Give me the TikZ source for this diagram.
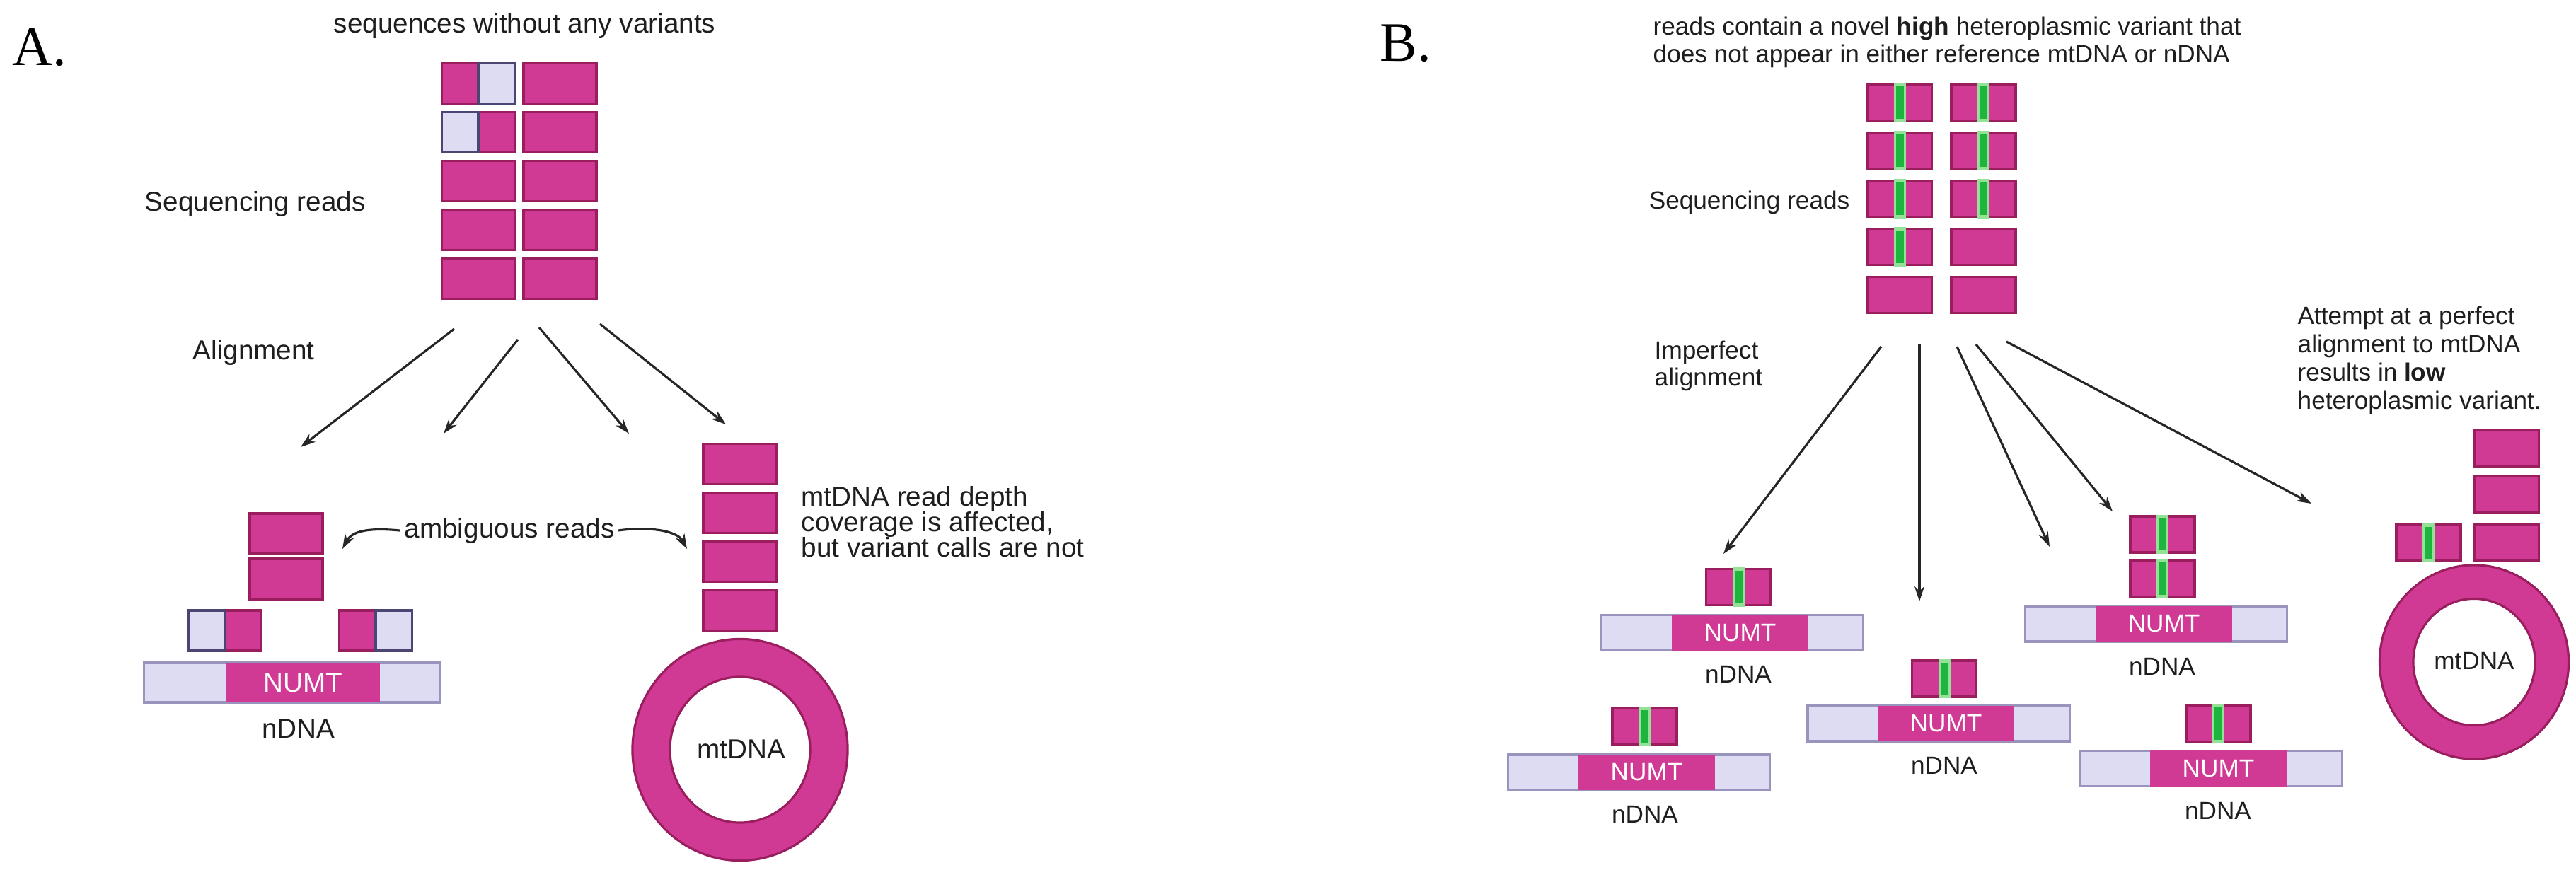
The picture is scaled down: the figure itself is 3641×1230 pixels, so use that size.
\documentclass[tikz,border=0pt]{standalone}
\usepackage{fontspec}
\setmainfont{Liberation Sans}
\newfontfamily\labelfont{Liberation Serif}
\usetikzlibrary{arrows.meta}
\definecolor{mag}{HTML}{D03A94}
\definecolor{magdark}{HTML}{9A1E5E}
\definecolor{lav}{HTML}{DEDCF3}
\definecolor{lavdark}{HTML}{9994BE}
\definecolor{navy}{HTML}{4A4572}
\definecolor{dgreen}{HTML}{1DB53D}
\definecolor{lgreen}{HTML}{93E297}
\definecolor{txt}{HTML}{1E1E1E}
\definecolor{arrowc}{HTML}{262626}
\tikzset{
  readbox/.style={draw=magdark, fill=mag, line width=1pt, inner sep=0pt, outer sep=0pt},
  readA/.style={readbox, minimum width=1.03cm, minimum height=0.57cm},
  readB/.style={readbox, minimum width=0.91cm, minimum height=0.51cm},
  lavpart/.style={draw=navy, fill=lav, line width=1pt},
  barbox/.style={draw=lavdark, fill=lav, line width=0.9pt, inner sep=0pt, outer sep=0pt},
  numtbox/.style={fill=mag, inner sep=0pt, outer sep=0pt, text=white},
  txtA/.style={text=txt, font=\fontsize{11}{12}\selectfont, inner sep=0pt},
  txtB/.style={text=txt, font=\fontsize{10}{11}\selectfont, inner sep=0pt},
  labfont/.style={text=black, inner sep=0pt, anchor=base west, font=\labelfont\fontsize{22.4}{24}\selectfont},
  arr/.style={draw=arrowc, line width=0.9pt, -{Stealth[length=0.21cm,width=0.14cm]}},
  ringfill/.style={fill=mag, draw=magdark, line width=0.9pt, even odd rule},
}
\newcommand\vreadB[3]{%
  \node[readB] (#1) at (#2,#3) {};
  \fill[lgreen] ([xshift=-0.085cm,yshift=0.02cm]#1.north) rectangle ([xshift=0.085cm,yshift=-0.02cm]#1.south);
  \fill[dgreen] ([xshift=-0.055cm,yshift=-0.03cm]#1.north) rectangle ([xshift=0.055cm,yshift=0.03cm]#1.south);
}
\begin{document}
\begin{tikzpicture}[x=0.01cm, y=-0.01cm]
\fill[white] (0,0) rectangle (3641,1230);
\useasboundingbox (0,0) rectangle (3641,1230);

% ================= Panel A =================
\node[labfont] (labA) at (17,92) {A.};
\node[txtA, anchor=base west] (titleA) at (471,47) {sequences without any variants};

\foreach \r/\yy in {1/118, 2/187, 3/256, 4/325, 5/394} {
  \node[readA] (a1\r) at (676,\yy) {};
  \node[readA] (a2\r) at (791.5,\yy) {};
}
\filldraw[lavpart] (a11.north) rectangle (a11.south east);
\filldraw[lavpart] (a12.north west) rectangle (a12.south);

\node[txtA, anchor=base west] (seqA) at (204,298) {Sequencing reads};
\node[txtA, anchor=base west] (alignA) at (272,508) {Alignment};

\coordinate (sA1) at (642,465); \coordinate (eA1) at (425,632);
\coordinate (sA2) at (732,480); \coordinate (eA2) at (627,613);
\coordinate (sA3) at (762,463); \coordinate (eA3) at (889,613);
\coordinate (sA4) at (848,458); \coordinate (eA4) at (1026,600);
\draw[arr] (sA1) -- (eA1);
\draw[arr] (sA2) -- (eA2);
\draw[arr] (sA3) -- (eA3);
\draw[arr] (sA4) -- (eA4);

% nDNA side
\node[readA] (l1) at (404.5,754.5) {};
\node[readA] (l2) at (404.5,818.5) {};
\node[readA] (l3) at (317.5,891.5) {};
\filldraw[lavpart] (l3.north west) rectangle (l3.south);
\node[readA] (l4) at (531,891.5) {};
\filldraw[lavpart] (l4.north) rectangle (l4.south east);
\node[barbox, minimum width=4.17cm, minimum height=0.56cm] (barA) at (412.5,965) {};
\node[numtbox, minimum width=2.17cm, minimum height=0.56cm, font=\fontsize{11}{12}\selectfont] (numtA) at (428.5,965) {NUMT};
\node[txtA, anchor=base] (ndnaA) at (422,1043) {nDNA};

% ambiguous reads
\node[txtA, anchor=base west] (amb) at (571,760) {ambiguous reads};
\coordinate (ambL) at (484,776);
\coordinate (ambR) at (971,776);
\draw[arr] ([xshift=-0.06cm]amb.west) .. controls +(-42,-4) and +(14,-26) .. (ambL);
\draw[arr] ([xshift=0.05cm]amb.east) .. controls +(42,-6) and +(-14,-26) .. (ambR);

% mtDNA side
\foreach \i/\yy in {1/656, 2/725, 3/794, 4/863} {
  \node[readA] (m\i) at (1045.5,\yy) {};
}
\path[ringfill] (1046,1060) ellipse [x radius=1.52cm, y radius=1.565cm]
                (1046,1060) ellipse [x radius=0.99cm, y radius=1.03cm];
\node[txtA, anchor=base] (mtA) at (1048,1072) {mtDNA};

\node[txtA, anchor=base west] (covA1) at (1132,715) {mtDNA read depth};
\node[txtA, anchor=base west] (covA2) at (1132,751) {coverage is affected,};
\node[txtA, anchor=base west] (covA3) at (1132,787) {but variant calls are not};

% ================= Panel B =================
\node[labfont] (labB) at (1950,86) {B.};
\node[txtB, anchor=base west] (tB1) at (2336,50) {reads contain a novel \textbf{high} heteroplasmic variant that};
\node[txtB, anchor=base west] (tB2) at (2336,88) {does not appear in either reference mtDNA or nDNA};

\vreadB{b11}{2685}{145}
\vreadB{b12}{2685}{213}
\vreadB{b13}{2685}{281}
\vreadB{b14}{2685}{349}
\node[readB] (b15) at (2685,417) {};
\vreadB{b21}{2803.5}{145}
\vreadB{b22}{2803.5}{213}
\vreadB{b23}{2803.5}{281}
\node[readB] (b24) at (2803.5,349) {};
\node[readB] (b25) at (2803.5,417) {};

\node[txtB, anchor=base east] (seqB) at (2615,295) {Sequencing reads};
\node[txtB, anchor=base west] (impB1) at (2338,507) {Imperfect};
\node[txtB, anchor=base west] (impB2) at (2338,545) {alignment};

\coordinate (sB1) at (2659,490); \coordinate (eB1) at (2436,783);
\coordinate (sB2) at (2713,486); \coordinate (eB2) at (2713,850);
\coordinate (sB3) at (2766,490); \coordinate (eB3) at (2897,773);
\coordinate (sB4) at (2793,487); \coordinate (eB4) at (2986,723);
\coordinate (sB5) at (2836,483); \coordinate (eB5) at (3267,712);
\draw[arr] (sB1) -- (eB1);
\draw[arr] (sB2) -- (eB2);
\draw[arr] (sB3) -- (eB3);
\draw[arr] (sB4) -- (eB4);
\draw[arr] (sB5) -- (eB5);

% group B1
\vreadB{g1r}{2457}{830}
\node[barbox, minimum width=3.70cm, minimum height=0.50cm] (g1bar) at (2448.5,894.5) {};
\node[numtbox, minimum width=1.93cm, minimum height=0.50cm, font=\fontsize{10}{11}\selectfont] (g1numt) at (2459.5,894.5) {NUMT};
\node[txtB, anchor=base] (g1lab) at (2457,965) {nDNA};
% group B2
\vreadB{g2r}{2324.5}{1027}
\node[barbox, minimum width=3.70cm, minimum height=0.50cm] (g2bar) at (2316.5,1092) {};
\node[numtbox, minimum width=1.93cm, minimum height=0.50cm, font=\fontsize{10}{11}\selectfont] (g2numt) at (2327.5,1092) {NUMT};
\node[txtB, anchor=base] (g2lab) at (2325,1163) {nDNA};
% group B3
\vreadB{g3r}{2748}{959.5}
\node[barbox, minimum width=3.70cm, minimum height=0.50cm] (g3bar) at (2740,1023) {};
\node[numtbox, minimum width=1.93cm, minimum height=0.50cm, font=\fontsize{10}{11}\selectfont] (g3numt) at (2750.5,1023) {NUMT};
\node[txtB, anchor=base] (g3lab) at (2748,1094) {nDNA};
% group B4
\vreadB{g4r}{3056.5}{755.5}
\vreadB{g4s}{3056.5}{818}
\node[barbox, minimum width=3.70cm, minimum height=0.50cm] (g4bar) at (3047.5,882) {};
\node[numtbox, minimum width=1.93cm, minimum height=0.50cm, font=\fontsize{10}{11}\selectfont] (g4numt) at (3058.5,882) {NUMT};
\node[txtB, anchor=base] (g4lab) at (3056,954) {nDNA};
% group B5
\vreadB{g5r}{3135.5}{1023}
\node[barbox, minimum width=3.70cm, minimum height=0.50cm] (g5bar) at (3125,1086.5) {};
\node[numtbox, minimum width=1.93cm, minimum height=0.50cm, font=\fontsize{10}{11}\selectfont] (g5numt) at (3135.5,1086.5) {NUMT};
\node[txtB, anchor=base] (g5lab) at (3135,1158) {nDNA};

% attempt text
\node[txtB, anchor=base west] (att1) at (3247,458) {Attempt at a perfect};
\node[txtB, anchor=base west] (att2) at (3247,498) {alignment to mtDNA};
\node[txtB, anchor=base west] (att3) at (3247,538) {results in \textbf{low}};
\node[txtB, anchor=base west] (att4) at (3247,578) {heteroplasmic variant.};

% mtDNA B
\node[readB] (mb1) at (3543,634) {};
\node[readB] (mb2) at (3543,698.5) {};
\node[readB] (mb3) at (3543,767.5) {};
\vreadB{mb4}{3432.5}{767.5}
\path[ringfill] (3497,936) ellipse [x radius=1.335cm, y radius=1.37cm]
                (3497,936) ellipse [x radius=0.86cm, y radius=0.895cm];
\node[txtB, anchor=base] (mtB) at (3497,946) {mtDNA};
\end{tikzpicture}
\end{document}
